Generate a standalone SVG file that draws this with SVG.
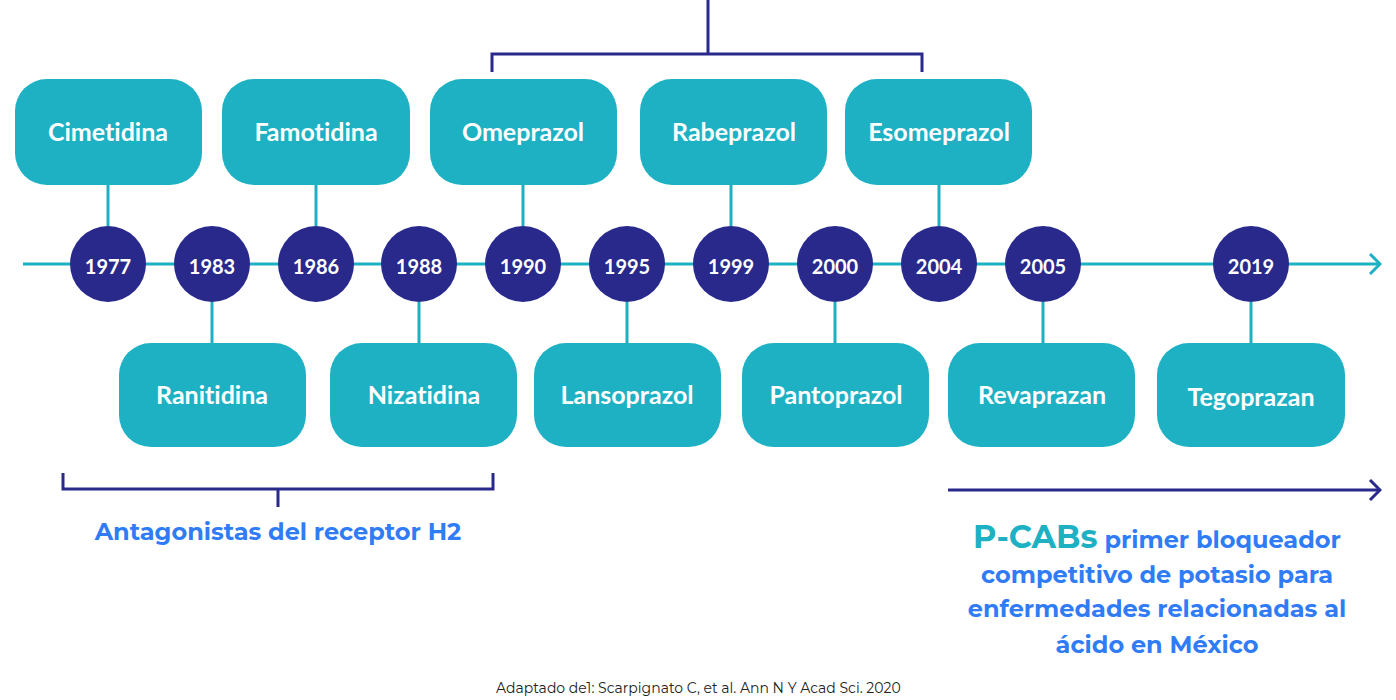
<svg xmlns="http://www.w3.org/2000/svg" width="1396" height="700" viewBox="0 0 1396 700">
<defs>
<style>
.box{fill:#1eb1c4}
.yr{fill:#29298c}
.lbl{font-family:Lato,"Liberation Sans",sans-serif;font-weight:700;font-size:25px;fill:#fff;text-anchor:middle;font-variant-ligatures:none}
.ytx{font-family:Lato,"Liberation Sans",sans-serif;font-weight:700;font-size:20px;fill:#fff;text-anchor:middle}
.tl{stroke:#1eb1c4;stroke-width:3;fill:none}
.br{stroke:#29298c;stroke-width:3;fill:none}
.blue{font-family:Montserrat,"Liberation Sans",sans-serif;font-weight:700;font-size:24px;fill:#2f7cf6;text-anchor:middle}
.foot{font-family:Montserrat,"Liberation Sans",sans-serif;font-size:14px;fill:#222}
</style>
<marker id="arT" markerWidth="14" markerHeight="22" refX="12" refY="11" orient="auto" markerUnits="userSpaceOnUse"><path d="M2,1 L12,11 L2,21" fill="none" stroke="#1eb1c4" stroke-width="3"/></marker>
<marker id="arN" markerWidth="14" markerHeight="22" refX="12" refY="11" orient="auto" markerUnits="userSpaceOnUse"><path d="M2,1 L12,11 L2,21" fill="none" stroke="#29298c" stroke-width="3"/></marker>
</defs>
<rect width="1396" height="700" fill="#fff"/>
<g id="connectors">
<line class="tl" x1="23" y1="264" x2="1380" y2="264" marker-end="url(#arT)"/>
<line class="tl" x1="108" y1="185" x2="108" y2="226"/>
<line class="tl" x1="316" y1="185" x2="316" y2="226"/>
<line class="tl" x1="523" y1="185" x2="523" y2="226"/>
<line class="tl" x1="731" y1="185" x2="731" y2="226"/>
<line class="tl" x1="939" y1="185" x2="939" y2="226"/>
<line class="tl" x1="212" y1="302" x2="212" y2="343"/>
<line class="tl" x1="419" y1="302" x2="419" y2="343"/>
<line class="tl" x1="627" y1="302" x2="627" y2="343"/>
<line class="tl" x1="835" y1="302" x2="835" y2="343"/>
<line class="tl" x1="1043" y1="302" x2="1043" y2="343"/>
<line class="tl" x1="1251" y1="302" x2="1251" y2="343"/>
<path class="br" d="M708,0 V54 M492,72 V54 H922 V72"/>
<path class="br" d="M63,473 V489 H493 V473 M278,489 V507"/>
<line class="br" x1="948" y1="490" x2="1380" y2="490" marker-end="url(#arN)"/>
</g>
<g id="n-cimetidina"><rect class="box" x="15" y="79" width="187" height="106" rx="32"/><text class="lbl" x="108" y="141">Cimetidina</text></g>
<g id="n-famotidina"><rect class="box" x="222" y="79" width="188" height="106" rx="32"/><text class="lbl" x="316" y="141">Famotidina</text></g>
<g id="n-omeprazol"><rect class="box" x="430" y="79" width="187" height="106" rx="32"/><text class="lbl" x="523" y="141">Omeprazol</text></g>
<g id="n-rabeprazol"><rect class="box" x="640" y="79" width="187" height="106" rx="32"/><text class="lbl" x="734" y="141">Rabeprazol</text></g>
<g id="n-esomeprazol"><rect class="box" x="845" y="79" width="187" height="106" rx="32"/><text class="lbl" x="939" y="141">Esomeprazol</text></g>
<g id="n-ranitidina"><rect class="box" x="119" y="343" width="187" height="104" rx="32"/><text class="lbl" x="212" y="404">Ranitidina</text></g>
<g id="n-nizatidina"><rect class="box" x="330" y="343" width="187" height="104" rx="32"/><text class="lbl" x="424" y="404">Nizatidina</text></g>
<g id="n-lansoprazol"><rect class="box" x="534" y="343" width="187" height="104" rx="32"/><text class="lbl" x="627" y="404">Lansoprazol</text></g>
<g id="n-pantoprazol"><rect class="box" x="742" y="343" width="187" height="104" rx="32"/><text class="lbl" x="836" y="404">Pantoprazol</text></g>
<g id="n-revaprazan"><rect class="box" x="948" y="343" width="187" height="104" rx="32"/><text class="lbl" x="1042" y="404">Revaprazan</text></g>
<g id="n-tegoprazan"><rect class="box" x="1157" y="343" width="188" height="104" rx="32"/><text class="lbl" x="1251" y="406">Tegoprazan</text></g>
<g id="y1977"><circle class="yr" cx="108" cy="264" r="38"/><text class="ytx" x="108" y="274">1977</text></g>
<g id="y1983"><circle class="yr" cx="212" cy="264" r="38"/><text class="ytx" x="212" y="274">1983</text></g>
<g id="y1986"><circle class="yr" cx="316" cy="264" r="38"/><text class="ytx" x="316" y="274">1986</text></g>
<g id="y1988"><circle class="yr" cx="419" cy="264" r="38"/><text class="ytx" x="419" y="274">1988</text></g>
<g id="y1990"><circle class="yr" cx="523" cy="264" r="38"/><text class="ytx" x="523" y="274">1990</text></g>
<g id="y1995"><circle class="yr" cx="627" cy="264" r="38"/><text class="ytx" x="627" y="274">1995</text></g>
<g id="y1999"><circle class="yr" cx="731" cy="264" r="38"/><text class="ytx" x="731" y="274">1999</text></g>
<g id="y2000"><circle class="yr" cx="835" cy="264" r="38"/><text class="ytx" x="835" y="274">2000</text></g>
<g id="y2004"><circle class="yr" cx="939" cy="264" r="38"/><text class="ytx" x="939" y="274">2004</text></g>
<g id="y2005"><circle class="yr" cx="1043" cy="264" r="38"/><text class="ytx" x="1043" y="274">2005</text></g>
<g id="y2019"><circle class="yr" cx="1251" cy="264" r="38"/><text class="ytx" x="1251" y="274">2019</text></g>
<g id="label-h2"><text class="blue" x="278" y="540">Antagonistas del receptor H2</text></g>
<g id="label-pcabs">
<text class="blue" x="1157" y="548"><tspan style="fill:#1eb1c4;font-size:32px">P-CABs</tspan> primer bloqueador</text>
<text class="blue" x="1157" y="583">competitivo de potasio para</text>
<text class="blue" x="1157" y="617">enfermedades relacionadas al</text>
<text class="blue" x="1157" y="653">ácido en México</text>
</g>
<text class="foot" x="496" y="693">Adaptado de1: Scarpignato C, et al. Ann N Y Acad Sci. 2020</text>
</svg>
